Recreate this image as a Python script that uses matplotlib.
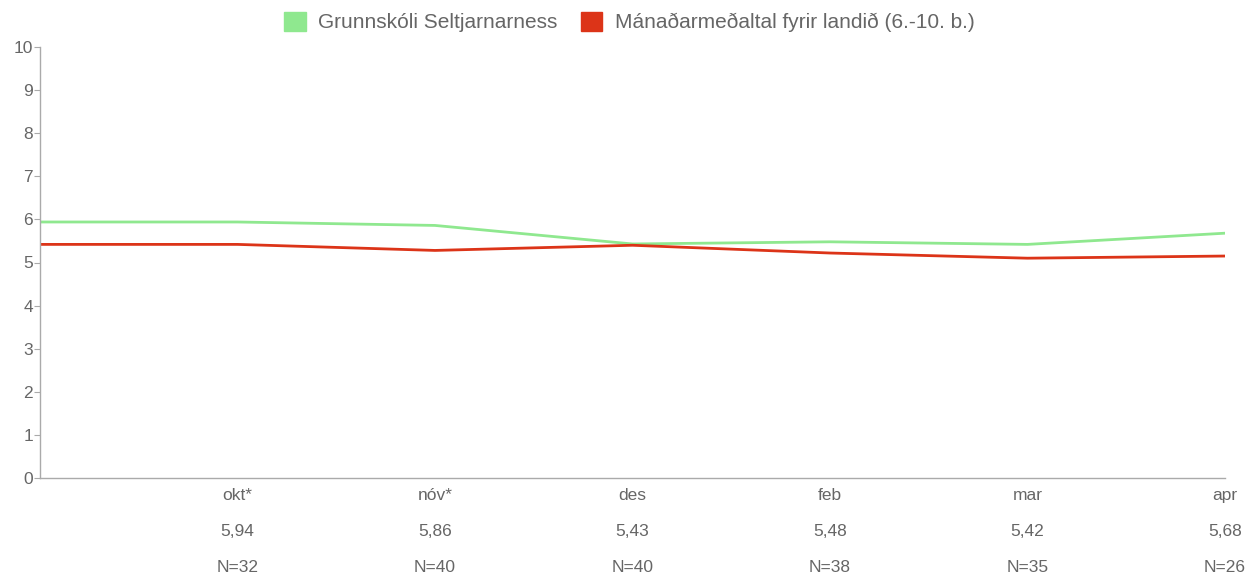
import matplotlib.pyplot as plt
from matplotlib.patches import Patch
from matplotlib.transforms import blended_transform_factory

plt.rcParams['font.family'] = ['Liberation Sans', 'DejaVu Sans']

# months (first slot is a blank lead-in carrying the okt value)
months = ['', 'okt*', 'nóv*', 'des', 'feb', 'mar', 'apr']
school = [5.94, 5.94, 5.86, 5.43, 5.48, 5.42, 5.68]
national = [5.42, 5.42, 5.28, 5.40, 5.22, 5.10, 5.15]
value_labels = ['', '5,94', '5,86', '5,43', '5,48', '5,42', '5,68']
n_labels = ['', 'N=32', 'N=40', 'N=40', 'N=38', 'N=35', 'N=26']

green = '#8fe88f'
red = '#dc3418'
grey = '#666666'
fs = 12.5

fig = plt.figure(figsize=(12.51, 5.76), dpi=100)
ax = fig.add_axes([40 / 1251, 1 - 478 / 576, 1185 / 1251, 431 / 576])

xs = list(range(len(months)))
ax.plot(xs, school, color=green, lw=2)
ax.plot(xs, national, color=red, lw=2)

ax.set_xlim(0, len(months) - 1)
ax.set_ylim(0, 10)
ax.set_yticks(range(0, 11))
ax.tick_params(axis='y', length=4, color='#aaaaaa', labelcolor=grey, labelsize=fs, pad=1)
ax.set_xticks(xs)
ax.set_xticklabels(months)
ax.tick_params(axis='x', length=0, labelcolor=grey, labelsize=fs, pad=7)

for s in ['top', 'right']:
    ax.spines[s].set_visible(False)
for s in ['left', 'bottom']:
    ax.spines[s].set_color('#aaaaaa')
    ax.spines[s].set_linewidth(1)

# value and N rows under the month labels
tr = blended_transform_factory(ax.transData, fig.transFigure)
for x, v, n in zip(xs, value_labels, n_labels):
    ax.text(x, 1 - 532 / 576, v, transform=tr, ha='center', va='center',
            color=grey, fontsize=fs)
    ax.text(x, 1 - 568 / 576, n, transform=tr, ha='center', va='center',
            color=grey, fontsize=fs)

handles = [Patch(color=green, label='Grunnskóli Seltjarnarness'),
           Patch(color=red, label='Mánaðarmeðaltal fyrir landið (6.-10. b.)')]
fig.legend(handles=handles, loc='center', bbox_to_anchor=(0.503, 1 - 22 / 576),
           ncol=2, frameon=False, fontsize=15, labelcolor=grey,
           handlelength=1.05, handleheight=1.05, columnspacing=1.1, handletextpad=0.6)

fig.savefig('out.png', dpi=100)
